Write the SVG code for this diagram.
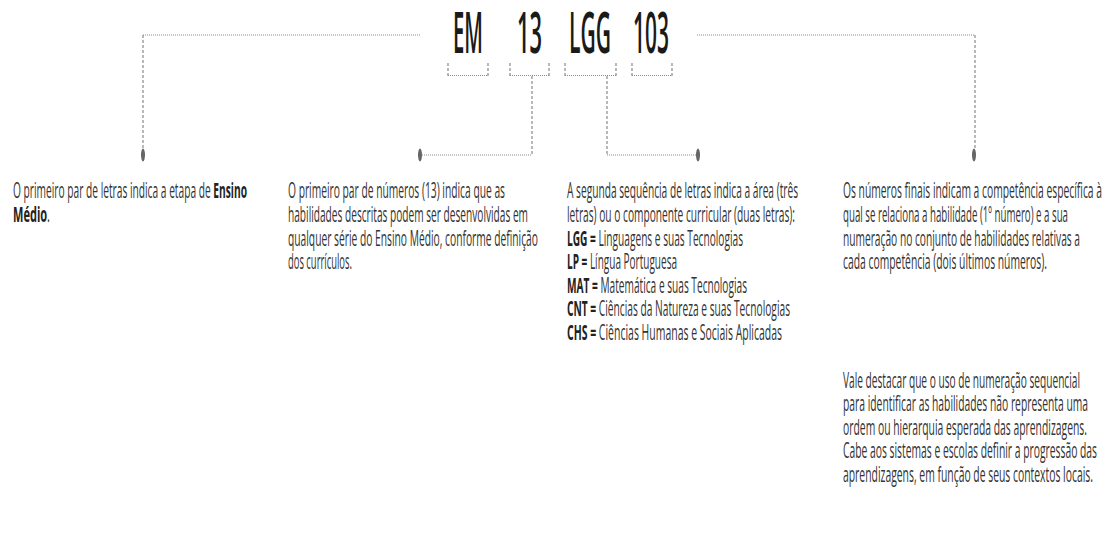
<svg xmlns="http://www.w3.org/2000/svg" width="1111" height="554" viewBox="0 0 1111 554">
<style>
.t{font-family:"Open Sans","Liberation Sans",sans-serif;font-size:22px;fill:#333}
.b{font-weight:700;fill:#222}
.h{font-family:"Open Sans","Liberation Sans",sans-serif;font-size:57px;font-weight:600;fill:#1a1a1a}
.hd{stroke:#8a8a8a;stroke-width:1.2;fill:none;stroke-dasharray:1 1}
.vd{stroke:#8a8a8a;stroke-width:1.2;fill:none;stroke-dasharray:3 2}
.dot{fill:#666}
</style>
<rect width="1111" height="554" fill="#fff"/>
<g id="code">
<text class="h" x="453" y="53" textLength="30" lengthAdjust="spacingAndGlyphs">EM</text>
<text class="h" x="517" y="53" textLength="25" lengthAdjust="spacingAndGlyphs">13</text>
<text class="h" x="569" y="53" textLength="42" lengthAdjust="spacingAndGlyphs">LGG</text>
<text class="h" x="633" y="53" textLength="36" lengthAdjust="spacingAndGlyphs">103</text>
</g>
<g id="brackets">
<path class="vd" d="M448,63V76M488,63V76M510,63V76M549,63V76M565,63V76M616,63V76M632,63V76M672,63V76"/>
<path class="hd" d="M448,75.5H488M510,75.5H549M565,75.5H616M632,75.5H672"/>
</g>
<g id="connectors">
<path class="hd" d="M143,35H420"/>
<path class="vd" d="M143,35V150"/>
<path class="hd" d="M697,35H975"/>
<path class="vd" d="M975,35V150"/>
<path class="vd" d="M532,76V155"/>
<path class="hd" d="M420,155H532"/>
<path class="vd" d="M607,76V155"/>
<path class="hd" d="M607,155H698"/>
<ellipse class="dot" cx="143" cy="155" rx="2" ry="6.5"/>
<ellipse class="dot" cx="420" cy="155" rx="2" ry="6.5"/>
<ellipse class="dot" cx="698" cy="155" rx="2" ry="6.5"/>
<ellipse class="dot" cx="974" cy="155" rx="2" ry="6.5"/>
</g>
<g id="col1">
<text class="t" x="13" y="198" textLength="234" lengthAdjust="spacingAndGlyphs">O primeiro par de letras indica a etapa de <tspan class="b">Ensino</tspan></text>
<text class="t" x="13" y="222" textLength="37" lengthAdjust="spacingAndGlyphs"><tspan class="b">Médio</tspan>.</text>
</g>
<g id="col2">
<text class="t" x="288" y="198" textLength="217" lengthAdjust="spacingAndGlyphs">O primeiro par de números (13) indica que as</text>
<text class="t" x="288" y="222" textLength="240" lengthAdjust="spacingAndGlyphs">habilidades descritas podem ser desenvolvidas em</text>
<text class="t" x="288" y="245.5" textLength="250" lengthAdjust="spacingAndGlyphs">qualquer série do Ensino Médio, conforme definição</text>
<text class="t" x="288" y="269" textLength="64" lengthAdjust="spacingAndGlyphs">dos currículos.</text>
</g>
<g id="col3">
<text class="t" x="567" y="198" textLength="231" lengthAdjust="spacingAndGlyphs">A segunda sequência de letras indica a área (três</text>
<text class="t" x="567" y="222" textLength="228" lengthAdjust="spacingAndGlyphs">letras) ou o componente curricular (duas letras):</text>
<text class="t" x="567" y="245.5" textLength="176" lengthAdjust="spacingAndGlyphs"><tspan class="b">LGG =</tspan> Linguagens e suas Tecnologias</text>
<text class="t" x="567" y="269" textLength="110" lengthAdjust="spacingAndGlyphs"><tspan class="b">LP =</tspan> Língua Portuguesa</text>
<text class="t" x="567" y="292.5" textLength="180" lengthAdjust="spacingAndGlyphs"><tspan class="b">MAT =</tspan> Matemática e suas Tecnologias</text>
<text class="t" x="567" y="316" textLength="223" lengthAdjust="spacingAndGlyphs"><tspan class="b">CNT =</tspan> Ciências da Natureza e suas Tecnologias</text>
<text class="t" x="567" y="339.5" textLength="215" lengthAdjust="spacingAndGlyphs"><tspan class="b">CHS =</tspan> Ciências Humanas e Sociais Aplicadas</text>
</g>
<g id="col4">
<text class="t" x="843" y="198" textLength="259" lengthAdjust="spacingAndGlyphs">Os números finais indicam a competência específica à</text>
<text class="t" x="843" y="222" textLength="225" lengthAdjust="spacingAndGlyphs">qual se relaciona a habilidade (1º número) e a sua</text>
<text class="t" x="843" y="245.5" textLength="237" lengthAdjust="spacingAndGlyphs">numeração no conjunto de habilidades relativas a</text>
<text class="t" x="843" y="269" textLength="204" lengthAdjust="spacingAndGlyphs">cada competência (dois últimos números).</text>
<text class="t" x="843" y="387.5" textLength="237" lengthAdjust="spacingAndGlyphs">Vale destacar que o uso de numeração sequencial</text>
<text class="t" x="843" y="411" textLength="245" lengthAdjust="spacingAndGlyphs">para identificar as habilidades não representa uma</text>
<text class="t" x="843" y="434.5" textLength="244" lengthAdjust="spacingAndGlyphs">ordem ou hierarquia esperada das aprendizagens.</text>
<text class="t" x="843" y="458" textLength="254" lengthAdjust="spacingAndGlyphs">Cabe aos sistemas e escolas definir a progressão das</text>
<text class="t" x="843" y="481.5" textLength="250" lengthAdjust="spacingAndGlyphs">aprendizagens, em função de seus contextos locais.</text>
</g>
</svg>
